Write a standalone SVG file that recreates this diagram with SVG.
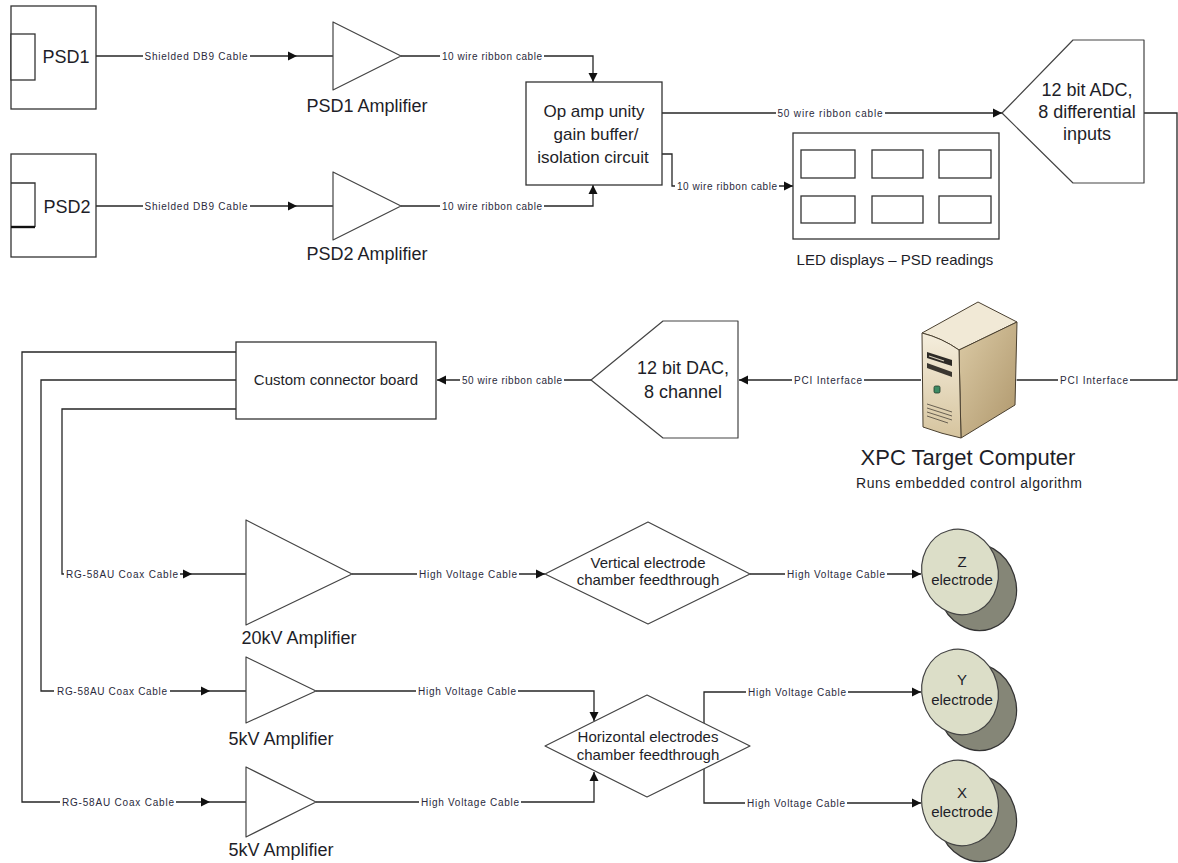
<svg xmlns="http://www.w3.org/2000/svg" width="1178" height="863" viewBox="0 0 1178 863">
  <defs>
    <style>
      .ln{fill:none;stroke:#262626;stroke-width:1.3}
      .box{fill:#fff;stroke:#333;stroke-width:1.3}
      .amp{fill:#fff;stroke:#444;stroke-width:1.2;stroke-linejoin:round}
      .bg{fill:#fff}
      .cl{font-family:"Liberation Sans",Arial,sans-serif;font-size:10px;fill:#2a2a3c;text-anchor:middle}
      .lb{font-family:"Liberation Sans",Arial,sans-serif;font-size:18px;fill:#1e1e28;text-anchor:middle}
      .md{font-family:"Liberation Sans",Arial,sans-serif;font-size:15px;fill:#1e1e28;text-anchor:middle}
      .sm{font-family:"Liberation Sans",Arial,sans-serif;font-size:14px;fill:#1e1e28;text-anchor:middle}
      .ax{fill:#111}
    </style>
    <path id="ah" class="ax" d="M0,0 L-9,-4.5 L-9,4.5 Z"/>
    <g id="disc">
      <ellipse cx="17" cy="15" rx="39" ry="44" transform="rotate(-18 17 15)" fill="#858677" stroke="#333" stroke-width="1.2"/>
      <ellipse cx="0" cy="0" rx="38" ry="43" transform="rotate(-15)" fill="#dcdec8" stroke="#444" stroke-width="1.2"/>
    </g>
    <linearGradient id="gFront" x1="0" y1="0" x2="0" y2="1">
      <stop offset="0" stop-color="#f5eedd"/>
      <stop offset="1" stop-color="#d6c49e"/>
    </linearGradient>
    <linearGradient id="gSide" x1="0" y1="0" x2="1" y2="1">
      <stop offset="0" stop-color="#dccba6"/>
      <stop offset="1" stop-color="#ae966b"/>
    </linearGradient>
  </defs>

  <!-- connectors -->
  <g id="connectors">
    <path class="ln" d="M96,56 H333"/>
    <rect class="bg" x="143" y="50" width="107" height="12"/>
    <text class="cl" x="196" y="59.5" textLength="103">Shielded DB9 Cable</text>
    <use href="#ah" transform="translate(297,56)"/>

    <path class="ln" d="M401,56 H593 V82"/>
    <rect class="bg" x="440" y="50" width="104" height="12"/>
    <text class="cl" x="492" y="59.5" textLength="100">10 wire ribbon cable</text>
    <use href="#ah" transform="translate(593,82) rotate(90)"/>

    <path class="ln" d="M96,206 H333"/>
    <rect class="bg" x="143" y="200" width="107" height="12"/>
    <text class="cl" x="196" y="209.5" textLength="103">Shielded DB9 Cable</text>
    <use href="#ah" transform="translate(297,206)"/>

    <path class="ln" d="M401,206 H593 V185"/>
    <rect class="bg" x="440" y="200" width="104" height="12"/>
    <text class="cl" x="492" y="209.5" textLength="100">10 wire ribbon cable</text>
    <use href="#ah" transform="translate(593,185) rotate(-90)"/>

    <path class="ln" d="M662,113 H1002"/>
    <rect class="bg" x="776" y="107" width="109" height="12"/>
    <text class="cl" x="830" y="116.5" textLength="105">50 wire ribbon cable</text>
    <use href="#ah" transform="translate(1002,113)"/>

    <path class="ln" d="M662,154 H672 V186 H793"/>
    <rect class="bg" x="675" y="180" width="104" height="12"/>
    <text class="cl" x="727" y="189.5" textLength="100">10 wire ribbon cable</text>
    <use href="#ah" transform="translate(793,186)"/>

    <path class="ln" d="M1144,113 H1177 V380 H1017"/>
    <rect class="bg" x="1058" y="374" width="72" height="12"/>
    <text class="cl" x="1094" y="383.5" textLength="68">PCI Interface</text>
    <use href="#ah" transform="translate(1017,380)"/>

    <path class="ln" d="M921,380 H739"/>
    <rect class="bg" x="792" y="374" width="72" height="12"/>
    <text class="cl" x="828" y="383.5" textLength="68">PCI Interface</text>
    <use href="#ah" transform="translate(739,380) rotate(180)"/>

    <path class="ln" d="M591,380 H437"/>
    <rect class="bg" x="460" y="374" width="104" height="12"/>
    <text class="cl" x="512" y="383.5" textLength="100">50 wire ribbon cable</text>
    <use href="#ah" transform="translate(437,380) rotate(180)"/>

    <path class="ln" d="M236,409 H62 V574 H246"/>
    <rect class="bg" x="64" y="568" width="116" height="12"/>
    <text class="cl" x="122" y="577.5" textLength="112">RG-58AU Coax Cable</text>
    <use href="#ah" transform="translate(192,574)"/>

    <path class="ln" d="M236,380 H41 V691 H246"/>
    <rect class="bg" x="54" y="685" width="116" height="12"/>
    <text class="cl" x="112" y="694.5" textLength="110">RG-58AU Coax Cable</text>
    <use href="#ah" transform="translate(210,691)"/>

    <path class="ln" d="M236,352 H22 V802 H246"/>
    <rect class="bg" x="60" y="796" width="116" height="12"/>
    <text class="cl" x="118" y="805.5" textLength="112">RG-58AU Coax Cable</text>
    <use href="#ah" transform="translate(210,802)"/>

    <path class="ln" d="M352,574 H545"/>
    <rect class="bg" x="417" y="568" width="102" height="12"/>
    <text class="cl" x="468" y="577.5" textLength="98">High Voltage Cable</text>
    <use href="#ah" transform="translate(545,574)"/>

    <path class="ln" d="M750,574 H921"/>
    <rect class="bg" x="785" y="568" width="102" height="12"/>
    <text class="cl" x="836" y="577.5" textLength="98">High Voltage Cable</text>
    <use href="#ah" transform="translate(921,574)"/>

    <path class="ln" d="M316,691 H594 V721"/>
    <rect class="bg" x="416" y="685" width="102" height="12"/>
    <text class="cl" x="467" y="694.5" textLength="98">High Voltage Cable</text>
    <use href="#ah" transform="translate(594,721) rotate(90)"/>

    <path class="ln" d="M316,802 H594 V772"/>
    <rect class="bg" x="419" y="796" width="102" height="12"/>
    <text class="cl" x="470" y="805.5" textLength="98">High Voltage Cable</text>
    <use href="#ah" transform="translate(594,772) rotate(-90)"/>

    <path class="ln" d="M704,724 V692 H921"/>
    <rect class="bg" x="746" y="686" width="102" height="12"/>
    <text class="cl" x="797" y="695.5" textLength="98">High Voltage Cable</text>
    <use href="#ah" transform="translate(921,692)"/>

    <path class="ln" d="M704,768 V803 H921"/>
    <rect class="bg" x="745" y="797" width="102" height="12"/>
    <text class="cl" x="796" y="806.5" textLength="98">High Voltage Cable</text>
    <use href="#ah" transform="translate(921,803)"/>
  </g>

  <!-- position sensing detectors -->
  <g id="psd1">
    <rect class="box" x="11" y="6" width="85" height="103"/>
    <rect class="box" x="11" y="34" width="24" height="46"/>
    <text class="lb" x="66" y="63">PSD1</text>
  </g>
  <g id="psd2">
    <rect class="box" x="11" y="154" width="85" height="103"/>
    <path fill="none" stroke="#333" stroke-width="1.3" d="M11,183 H35 V227"/>
    <path fill="none" stroke="#111" stroke-width="2.4" d="M11,227 H35"/>
    <text class="lb" x="67" y="213">PSD2</text>
  </g>

  <!-- amplifiers -->
  <g id="psd1-amp">
    <polygon class="amp" points="333,22 333,90 401,56"/>
    <text class="lb" x="367" y="112">PSD1 Amplifier</text>
  </g>
  <g id="psd2-amp">
    <polygon class="amp" points="333,172 333,240 401,206"/>
    <text class="lb" x="367" y="260">PSD2 Amplifier</text>
  </g>

  <!-- buffer board -->
  <g id="buffer">
    <rect class="box" x="526" y="82" width="136" height="103"/>
    <text class="lb" x="594" y="117" style="font-size:17px">Op amp unity</text>
    <text class="lb" x="596" y="140" style="font-size:17px">gain buffer/</text>
    <text class="lb" x="593" y="163" style="font-size:17px">isolation circuit</text>
  </g>

  <!-- LED displays -->
  <g id="led-displays">
    <rect class="box" x="793" y="133" width="206" height="106"/>
    <rect class="box" x="801" y="150" width="54" height="28"/>
    <rect class="box" x="872" y="150" width="51" height="28"/>
    <rect class="box" x="939" y="150" width="52" height="28"/>
    <rect class="box" x="801" y="196" width="54" height="27"/>
    <rect class="box" x="872" y="196" width="51" height="27"/>
    <rect class="box" x="939" y="196" width="52" height="27"/>
    <text class="md" x="895" y="265">LED displays – PSD readings</text>
  </g>

  <!-- converters -->
  <g id="adc">
    <polygon class="amp" points="1002,113 1073,40 1144,40 1144,183 1073,183"/>
    <text class="lb" x="1087" y="96">12 bit ADC,</text>
    <text class="lb" x="1087" y="118">8 differential</text>
    <text class="lb" x="1087" y="140">inputs</text>
  </g>
  <g id="dac">
    <polygon class="amp" points="591,380 663,321 738,321 738,438 663,438"/>
    <text class="lb" x="683" y="374">12 bit DAC,</text>
    <text class="lb" x="683" y="398">8 channel</text>
  </g>

  <!-- target computer -->
  <g id="xpc-target">
    <path d="M922,333 L978,302 L1017,322 L959,350 Q942,338 922,333 Z" fill="#f1e9d6" stroke="#4a4030" stroke-width="1"/>
    <path d="M959,350 L1017,322 L1015,405 L961,438 Z" fill="url(#gSide)" stroke="#4a4030" stroke-width="1"/>
    <path d="M922,333 Q942,338 959,350 L961,438 Q942,434 923,427 Z" fill="url(#gFront)" stroke="#4a4030" stroke-width="1"/>
    <path d="M927,352 L952,360 L952,366 L927,358 Z" fill="#2d2a26"/>
    <path d="M929,356 L944,361" stroke="#d8cfbc" stroke-width="1.2"/>
    <path d="M927,363 L952,372 L952,377 L927,368 Z" fill="#3a3630"/>
    <rect x="934" y="386" width="6" height="7" rx="1.5" fill="#3d8a63" stroke="#1f3a2a" stroke-width="0.8"/>
    <path d="M927,404 L952,412 M927,408 L952,416 M927,412 L952,420 M927,416 L948,423" stroke="#5b5447" stroke-width="0.9"/>
    <text class="lb" x="968" y="465" style="font-size:22px">XPC Target Computer</text>
    <text class="sm" x="969" y="488" textLength="226">Runs embedded control algorithm</text>
  </g>

  <g id="connector-board">
    <rect class="box" x="236" y="342" width="200" height="77"/>
    <text class="md" x="336" y="385">Custom connector board</text>
  </g>

  <!-- high voltage amplifiers -->
  <g id="amp-20kv">
    <polygon class="amp" points="246,520 246,625 352,574"/>
    <text class="lb" x="299" y="644">20kV Amplifier</text>
  </g>
  <g id="amp-5kv-a">
    <polygon class="amp" points="246,657 246,723 316,691"/>
    <text class="lb" x="281" y="745">5kV Amplifier</text>
  </g>
  <g id="amp-5kv-b">
    <polygon class="amp" points="246,767 246,837 316,802"/>
    <text class="lb" x="281" y="856">5kV Amplifier</text>
  </g>

  <!-- feedthroughs -->
  <g id="vertical-feedthrough">
    <polygon class="amp" points="545,574 648,522 750,574 648,624"/>
    <text class="md" x="648" y="568">Vertical electrode</text>
    <text class="md" x="648" y="585">chamber feedthrough</text>
  </g>
  <g id="horizontal-feedthrough">
    <polygon class="amp" points="545,746 647,695 750,746 647,797"/>
    <text class="md" x="648" y="742">Horizontal electrodes</text>
    <text class="md" x="648" y="760">chamber feedthrough</text>
  </g>

  <!-- electrodes -->
  <g id="electrode-z">
    <use href="#disc" transform="translate(960,572)"/>
    <text class="md" x="962" y="567">Z</text>
    <text class="md" x="962" y="585">electrode</text>
  </g>
  <g id="electrode-y">
    <use href="#disc" transform="translate(960,692)"/>
    <text class="md" x="962" y="685">Y</text>
    <text class="md" x="962" y="705">electrode</text>
  </g>
  <g id="electrode-x">
    <use href="#disc" transform="translate(960,803)"/>
    <text class="md" x="962" y="798">X</text>
    <text class="md" x="962" y="817">electrode</text>
  </g>
</svg>
